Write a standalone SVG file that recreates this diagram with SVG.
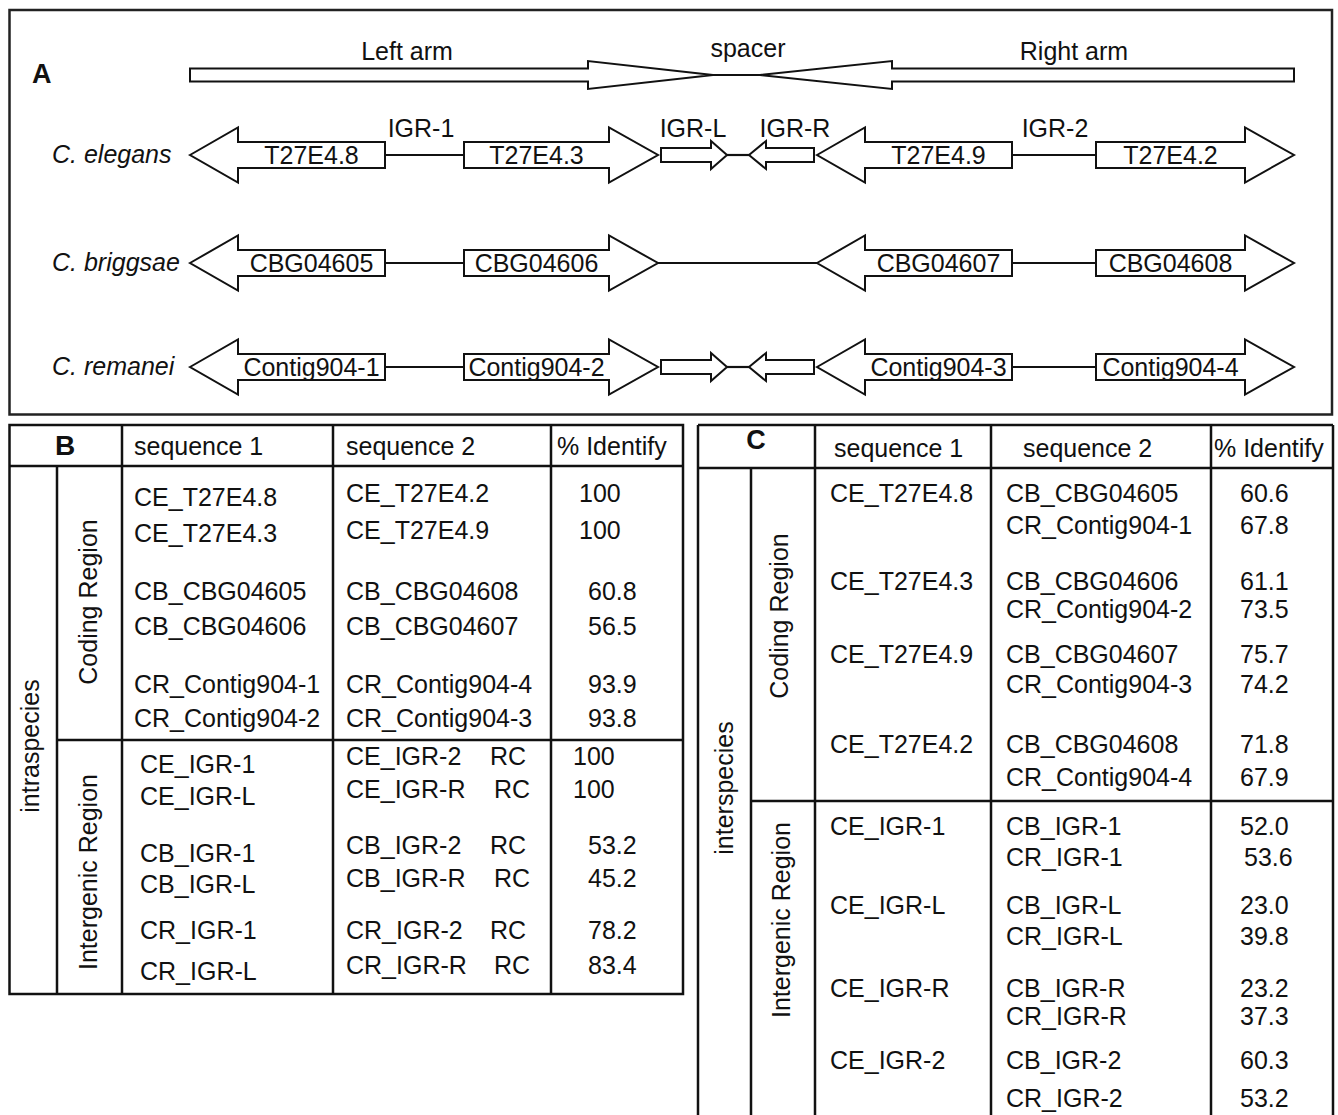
<svg xmlns="http://www.w3.org/2000/svg" width="1338" height="1115" viewBox="0 0 1338 1115">
<style>
text{font-family:"Liberation Sans",Arial,sans-serif;font-size:25px;fill:#111}
.it{font-style:italic}
.b{font-weight:bold}
.m{text-anchor:middle}
.shape{fill:#fff;stroke:#111;stroke-width:2;stroke-linejoin:miter}
.conn{stroke:#111;stroke-width:2.2;fill:none}
.frame{fill:none;stroke:#222;stroke-width:2.5}
.grid{stroke:#111;stroke-width:2.5;fill:none}
</style>
<rect id="panelA" class="frame" x="9.5" y="10" width="1322.5" height="404.5"/>
<g id="labelA"><text class="b" x="32" y="83" style="font-size:27px">A</text></g>

<g id="arms">
<g id="leftArm"><polygon class="shape" points="190,68.5 588,68.5 588,61 713,75 588,89 588,81.5 190,81.5"/><text class="m" x="407" y="60">Left arm</text></g>
<g id="rightArm"><polygon class="shape" points="1294,68.5 892,68.5 892,61 760,75 892,89 892,81.5 1294,81.5"/><text class="m" x="1074" y="60">Right arm</text></g>
<g id="spacer"><text class="m" x="748" y="57">spacer</text></g>
</g>

<g id="connectors">
<line class="conn" x1="713" y1="75" x2="760" y2="75"/>
<line class="conn" x1="385" y1="155" x2="464" y2="155"/>
<line class="conn" x1="727" y1="155" x2="749" y2="155"/>
<line class="conn" x1="1012" y1="155" x2="1096" y2="155"/>
<line class="conn" x1="385" y1="263" x2="464" y2="263"/>
<line class="conn" x1="658" y1="263" x2="817" y2="263"/>
<line class="conn" x1="1012" y1="263" x2="1096" y2="263"/>
<line class="conn" x1="385" y1="367" x2="464" y2="367"/>
<line class="conn" x1="727" y1="367" x2="749" y2="367"/>
<line class="conn" x1="1012" y1="367" x2="1096" y2="367"/>
</g>

<g id="elegans">
<text class="it" x="52" y="163">C. elegans</text>
<g id="T27E4.8"><polygon class="shape" points="190,155 238,127.5 238,142 385,142 385,168 238,168 238,182.5"/><text class="m" x="311.5" y="164">T27E4.8</text></g>
<g id="T27E4.3"><polygon class="shape" points="464,142 609,142 609,127.5 658,155 609,182.5 609,168 464,168"/><text class="m" x="536.5" y="164">T27E4.3</text></g>
<g id="IGR-L"><polygon class="shape" points="661,148 711,148 711,141 727,155 711,169 711,162 661,162"/><text class="m" x="693" y="137">IGR-L</text></g>
<g id="IGR-R"><polygon class="shape" points="749,155 766,141 766,148 814,148 814,162 766,162 766,169"/><text class="m" x="795" y="137">IGR-R</text></g>
<g id="T27E4.9"><polygon class="shape" points="817,155 865,127.5 865,142 1012,142 1012,168 865,168 865,182.5"/><text class="m" x="938.5" y="164">T27E4.9</text></g>
<g id="T27E4.2"><polygon class="shape" points="1096,142 1245,142 1245,127.5 1294,155 1245,182.5 1245,168 1096,168"/><text class="m" x="1170.5" y="164">T27E4.2</text></g>
<text class="m" x="421" y="137">IGR-1</text>
<text class="m" x="1055" y="137">IGR-2</text>
</g>

<g id="briggsae">
<text class="it" x="52" y="271">C. briggsae</text>
<g id="CBG04605"><polygon class="shape" points="190,263 238,235.5 238,250 385,250 385,276 238,276 238,290.5"/><text class="m" x="311.5" y="272">CBG04605</text></g>
<g id="CBG04606"><polygon class="shape" points="464,250 609,250 609,235.5 658,263 609,290.5 609,276 464,276"/><text class="m" x="536.5" y="272">CBG04606</text></g>
<g id="CBG04607"><polygon class="shape" points="817,263 865,235.5 865,250 1012,250 1012,276 865,276 865,290.5"/><text class="m" x="938.5" y="272">CBG04607</text></g>
<g id="CBG04608"><polygon class="shape" points="1096,250 1245,250 1245,235.5 1294,263 1245,290.5 1245,276 1096,276"/><text class="m" x="1170.5" y="272">CBG04608</text></g>
</g>

<g id="remanei">
<text class="it" x="52" y="375">C. remanei</text>
<g id="Contig904-1"><polygon class="shape" points="190,367 238,339.5 238,354 385,354 385,380 238,380 238,394.5"/><text class="m" x="311.5" y="376">Contig904-1</text></g>
<g id="Contig904-2"><polygon class="shape" points="464,354 609,354 609,339.5 658,367 609,394.5 609,380 464,380"/><text class="m" x="536.5" y="376">Contig904-2</text></g>
<g id="CR-IGR-L"><polygon class="shape" points="661,360 711,360 711,353 727,367 711,381 711,374 661,374"/></g>
<g id="CR-IGR-R"><polygon class="shape" points="749,367 766,353 766,360 814,360 814,374 766,374 766,381"/></g>
<g id="Contig904-3"><polygon class="shape" points="817,367 865,339.5 865,354 1012,354 1012,380 865,380 865,394.5"/><text class="m" x="938.5" y="376">Contig904-3</text></g>
<g id="Contig904-4"><polygon class="shape" points="1096,354 1245,354 1245,339.5 1294,367 1245,394.5 1245,380 1096,380"/><text class="m" x="1170.5" y="376">Contig904-4</text></g>
</g>

<g id="tableB">
<rect class="grid" x="9.5" y="425" width="673.5" height="569"/>
<line class="grid" x1="9.5" y1="466" x2="683" y2="466"/>
<line class="grid" x1="57" y1="466" x2="57" y2="994"/>
<line class="grid" x1="122" y1="425" x2="122" y2="994"/>
<line class="grid" x1="333" y1="425" x2="333" y2="994"/>
<line class="grid" x1="551" y1="425" x2="551" y2="994"/>
<line class="grid" x1="57" y1="740" x2="683" y2="740"/>
<text class="b m" x="65" y="455" style="font-size:28px">B</text>
<text x="134" y="455">sequence 1</text>
<text x="346" y="455">sequence 2</text>
<text x="557" y="455">% Identify</text>
<text class="m" transform="translate(39,746) rotate(-90)">intraspecies</text>
<text class="m" transform="translate(97,602) rotate(-90)">Coding Region</text>
<text class="m" transform="translate(97,872) rotate(-90)">Intergenic Region</text>
<text x="134" y="506">CE_T27E4.8</text>
<text x="134" y="542">CE_T27E4.3</text>
<text x="134" y="600">CB_CBG04605</text>
<text x="134" y="635">CB_CBG04606</text>
<text x="134" y="693">CR_Contig904-1</text>
<text x="134" y="727">CR_Contig904-2</text>
<text x="346" y="502">CE_T27E4.2</text>
<text x="346" y="539">CE_T27E4.9</text>
<text x="346" y="600">CB_CBG04608</text>
<text x="346" y="635">CB_CBG04607</text>
<text x="346" y="693">CR_Contig904-4</text>
<text x="346" y="727">CR_Contig904-3</text>
<text x="579" y="502">100</text>
<text x="579" y="539">100</text>
<text x="588" y="600">60.8</text>
<text x="588" y="635">56.5</text>
<text x="588" y="693">93.9</text>
<text x="588" y="727">93.8</text>
<text x="140" y="773">CE_IGR-1</text>
<text x="140" y="805">CE_IGR-L</text>
<text x="140" y="862">CB_IGR-1</text>
<text x="140" y="893">CB_IGR-L</text>
<text x="140" y="939">CR_IGR-1</text>
<text x="140" y="980">CR_IGR-L</text>
<text x="346" y="765">CE_IGR-2<tspan x="490">RC</tspan></text>
<text x="346" y="798">CE_IGR-R<tspan x="494">RC</tspan></text>
<text x="346" y="854">CB_IGR-2<tspan x="490">RC</tspan></text>
<text x="346" y="887">CB_IGR-R<tspan x="494">RC</tspan></text>
<text x="346" y="939">CR_IGR-2<tspan x="490">RC</tspan></text>
<text x="346" y="974">CR_IGR-R<tspan x="494">RC</tspan></text>
<text x="573" y="765">100</text>
<text x="573" y="798">100</text>
<text x="588" y="854">53.2</text>
<text x="588" y="887">45.2</text>
<text x="588" y="939">78.2</text>
<text x="588" y="974">83.4</text>
</g>

<g id="tableC">
<line class="grid" x1="698" y1="425" x2="1333" y2="425"/>
<line class="grid" x1="698" y1="425" x2="698" y2="1115"/>
<line class="grid" x1="1333" y1="425" x2="1333" y2="1115"/>
<line class="grid" x1="698" y1="468" x2="1333" y2="468"/>
<line class="grid" x1="751" y1="468" x2="751" y2="1115"/>
<line class="grid" x1="815" y1="425" x2="815" y2="1115"/>
<line class="grid" x1="991" y1="425" x2="991" y2="1115"/>
<line class="grid" x1="1211" y1="425" x2="1211" y2="1115"/>
<line class="grid" x1="751" y1="801" x2="1333" y2="801"/>
<text class="b m" x="756" y="449" style="font-size:27px">C</text>
<text x="834" y="457">sequence 1</text>
<text x="1023" y="457">sequence 2</text>
<text x="1214" y="457">% Identify</text>
<text class="m" transform="translate(733,788) rotate(-90)">interspecies</text>
<text class="m" transform="translate(788,616) rotate(-90)">Coding Region</text>
<text class="m" transform="translate(790,920) rotate(-90)">Intergenic Region</text>
<text x="830" y="502">CE_T27E4.8</text>
<text x="830" y="590">CE_T27E4.3</text>
<text x="830" y="663">CE_T27E4.9</text>
<text x="830" y="753">CE_T27E4.2</text>
<text x="830" y="835">CE_IGR-1</text>
<text x="830" y="914">CE_IGR-L</text>
<text x="830" y="997">CE_IGR-R</text>
<text x="830" y="1069">CE_IGR-2</text>
<text x="1006" y="502">CB_CBG04605</text>
<text x="1006" y="534">CR_Contig904-1</text>
<text x="1006" y="590">CB_CBG04606</text>
<text x="1006" y="618">CR_Contig904-2</text>
<text x="1006" y="663">CB_CBG04607</text>
<text x="1006" y="693">CR_Contig904-3</text>
<text x="1006" y="753">CB_CBG04608</text>
<text x="1006" y="786">CR_Contig904-4</text>
<text x="1006" y="835">CB_IGR-1</text>
<text x="1006" y="866">CR_IGR-1</text>
<text x="1006" y="914">CB_IGR-L</text>
<text x="1006" y="945">CR_IGR-L</text>
<text x="1006" y="997">CB_IGR-R</text>
<text x="1006" y="1025">CR_IGR-R</text>
<text x="1006" y="1069">CB_IGR-2</text>
<text x="1006" y="1107">CR_IGR-2</text>
<text x="1240" y="502">60.6</text>
<text x="1240" y="534">67.8</text>
<text x="1240" y="590">61.1</text>
<text x="1240" y="618">73.5</text>
<text x="1240" y="663">75.7</text>
<text x="1240" y="693">74.2</text>
<text x="1240" y="753">71.8</text>
<text x="1240" y="786">67.9</text>
<text x="1240" y="835">52.0</text>
<text x="1244" y="866">53.6</text>
<text x="1240" y="914">23.0</text>
<text x="1240" y="945">39.8</text>
<text x="1240" y="997">23.2</text>
<text x="1240" y="1025">37.3</text>
<text x="1240" y="1069">60.3</text>
<text x="1240" y="1107">53.2</text>
</g>
</svg>
